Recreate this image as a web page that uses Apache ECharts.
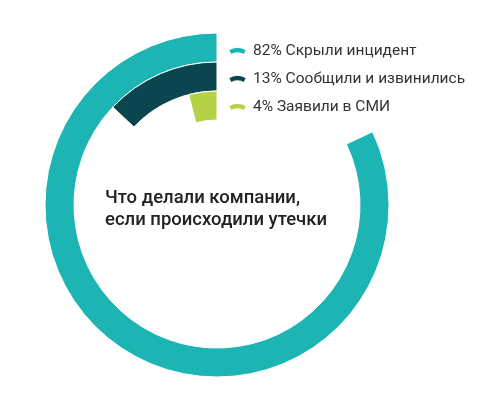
<!DOCTYPE html>
<html><head><meta charset="utf-8">
<script src="https://cdn.jsdelivr.net/npm/echarts@6/dist/echarts.min.js"></script>
<style>html,body{margin:0;padding:0;background:#fff}#c{width:489px;height:399px}</style>
</head><body><div id="c"></div>
<script>
const labels = ['Скрыли инцидент', 'Сообщили и извинились', 'Заявили в СМИ'];
const values = [82, 13, 4];
const colors = ['#1db4b4', '#0b4650', '#b5d145'];
const rings = ['outer', 'middle', 'inner'];
const title = 'Что делали компании,\nесли происходили утечки';

const chart = echarts.init(document.getElementById('c'), null, {renderer: 'canvas'});
const radiusCats = rings.slice().reverse();
const icon = 'path://M0,4 Q10,-2 20,4 L17,10 Q10,6 3,10 Z';
const series = labels.map((l, i) => {
  const data = radiusCats.map(r => r === rings[i] ? values[i] : null);
  return {
    type: 'bar', coordinateSystem: 'polar', name: values[i] + '% ' + l,
    data: data, stack: 's', barCategoryGap: '0%',
    itemStyle: {color: colors[i], borderColor: '#fff', borderWidth: 1},
    silent: true
  };
});
chart.setOption({
  animation: false,
  polar: {center: [217, 205], radius: [85, 172]},
  angleAxis: {type: 'value', min: 0, max: 100, startAngle: 90, clockwise: false, show: false},
  radiusAxis: {type: 'category', data: radiusCats, show: false},
  legend: {
    orient: 'vertical', left: 222, top: 37, itemGap: 10, itemWidth: 19, itemHeight: 9,
    icon: icon, selectedMode: false,
    textStyle: {fontFamily: 'Roboto', fontSize: 15.5, lineHeight: 18, color: '#333', padding: [0, 0, 0, 1]},
    data: series.map((s, i) => ({name: s.name, itemStyle: {color: colors[i]}}))
  },
  graphic: [{
    type: 'text', left: 105, top: 187,
    style: {text: title, font: '500 18.5px Roboto', fill: '#222', lineHeight: 22}
  }],
  series: series
});
</script></body></html>
